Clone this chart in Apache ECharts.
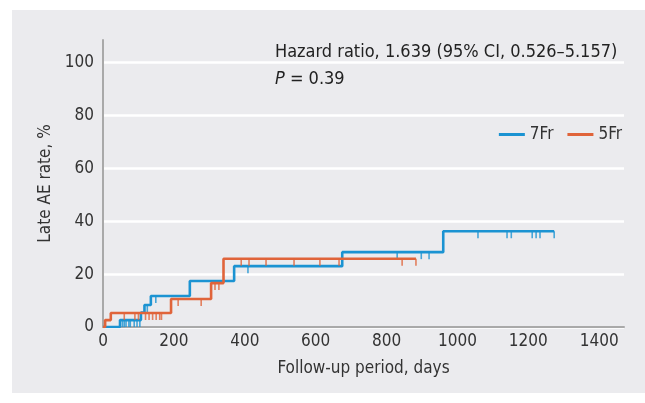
<!DOCTYPE html>
<html>
<head>
<meta charset="utf-8">
<script src="https://cdn.jsdelivr.net/npm/echarts@6/dist/echarts.min.js"></script>
<style>
html,body{margin:0;padding:0;background:#fff;}
#wrap{position:relative;width:645px;height:403px;overflow:hidden;}
#panel{position:absolute;left:12px;top:10px;width:633px;height:383px;background:#ebebee;}
#chart{position:absolute;left:0;top:0;width:645px;height:403px;}
</style>
</head>
<body>
<div id="wrap"><div id="panel"></div><div id="chart"></div></div>
<script>
// Kaplan-Meier step points: [day, cumulative late AE rate %]
const steps7Fr = [[0,0],[48,2.6],[107,5.5],[117,8.3],[135,11.7],[245,17.4],[370,23.0],[675,28.3],[960,36.2],[1273,36.2]];
const steps5Fr = [[0,0],[6,2.6],[22,5.3],[192,10.6],[305,16.6],[340,25.8],[883,25.8]];
// censor days
const censor7Fr = [55,60,65,73,77,88,96,104,125,149,409,830,898,920,1058,1140,1152,1211,1222,1233,1273];
const censor5Fr = [60,90,100,120,130,140,150,160,165,212,277,316,327,390,412,460,539,612,666,844,883];
const xTicks = [0,200,400,600,800,1000,1200,1400];
const yTicks = [0,20,40,60,80,100];

const blue = '#1b93d2', orange = '#e0643a';
const font = "'Liberation Sans Narrow','DejaVu Sans Condensed',sans-serif";

function levelAt(steps, d){
  let v = 0;
  for (const [x,y] of steps){ if (x <= d) v = y; }
  return v;
}
const cens7 = censor7Fr.map(d => [d, levelAt(steps7Fr, d)]);
const cens5 = censor5Fr.map(d => [d, levelAt(steps5Fr, d)]);

const chart = echarts.init(document.getElementById('chart'), null, {renderer:'canvas'});
const censorSymbol = {symbol:'rect', symbolSize:[1.6,7], symbolOffset:[0,3.5]};
chart.setOption({
  backgroundColor:'transparent',
  animation:false,
  textStyle:{fontFamily:font},
  grid:{left:103, top:40, right:21, bottom:76},
  legend:{
    data:['7Fr','5Fr'], right:18, top:121, icon:'rect', itemWidth:26, itemHeight:3, itemGap:14,
    textStyle:{fontFamily:font, fontSize:17, color:'#333'}
  },
  xAxis:{
    type:'value', min:0, max:1470, interval:200,
    name:'Follow-up period, days', nameLocation:'middle', nameGap:33,
    nameTextStyle:{fontFamily:font, fontSize:17, color:'#333'},
    axisLine:{lineStyle:{color:'#a9a9a9', width:2}},
    axisTick:{show:false},
    axisLabel:{fontFamily:font, fontSize:17, color:'#333', margin:6, showMaxLabel:false,
      formatter: v => xTicks.includes(v) ? String(v) : ''},
    splitLine:{show:false}
  },
  yAxis:{
    type:'value', min:0, max:108.5, interval:20,
    name:'Late AE rate, %', nameLocation:'middle', nameGap:40,
    nameTextStyle:{fontFamily:font, fontSize:17, color:'#333'},
    axisLine:{show:true, lineStyle:{color:'#a9a9a9', width:2}},
    axisTick:{show:false},
    axisLabel:{fontFamily:font, fontSize:17, color:'#333', margin:9, showMaxLabel:false,
      formatter: v => yTicks.includes(v) ? String(v) : ''},
    splitLine:{show:true, lineStyle:{color:['#ffffff','#ffffff','#ffffff','#ffffff','#ffffff','#ffffff','rgba(0,0,0,0)'], width:2.5}}
  },
  graphic:[
    {type:'text', left:275, top:43, style:{text:'Hazard ratio, 1.639 (95% CI, 0.526–5.157)', font:'18px '+font, fill:'#222'}},
    {type:'text', left:275, top:70, style:{text:'{i|P} = 0.39', font:'18px '+font, fill:'#222',
      rich:{i:{fontStyle:'italic', fontFamily:font, fontSize:18, fill:'#222'}}}}
  ],
  series:[
    {name:'7Fr', type:'line', step:'end', data:steps7Fr, showSymbol:false, color:blue,
      lineStyle:{color:blue, width:2.6}, z:3},
    {name:'5Fr', type:'line', step:'end', data:steps5Fr, showSymbol:false, color:orange,
      lineStyle:{color:orange, width:2.6}, z:4},
    Object.assign({name:'7Fr censored', type:'scatter', data:cens7, itemStyle:{color:blue}, z:3}, censorSymbol),
    Object.assign({name:'5Fr censored', type:'scatter', data:cens5, itemStyle:{color:orange}, z:4}, censorSymbol)
  ]
});
</script>
</body>
</html>
